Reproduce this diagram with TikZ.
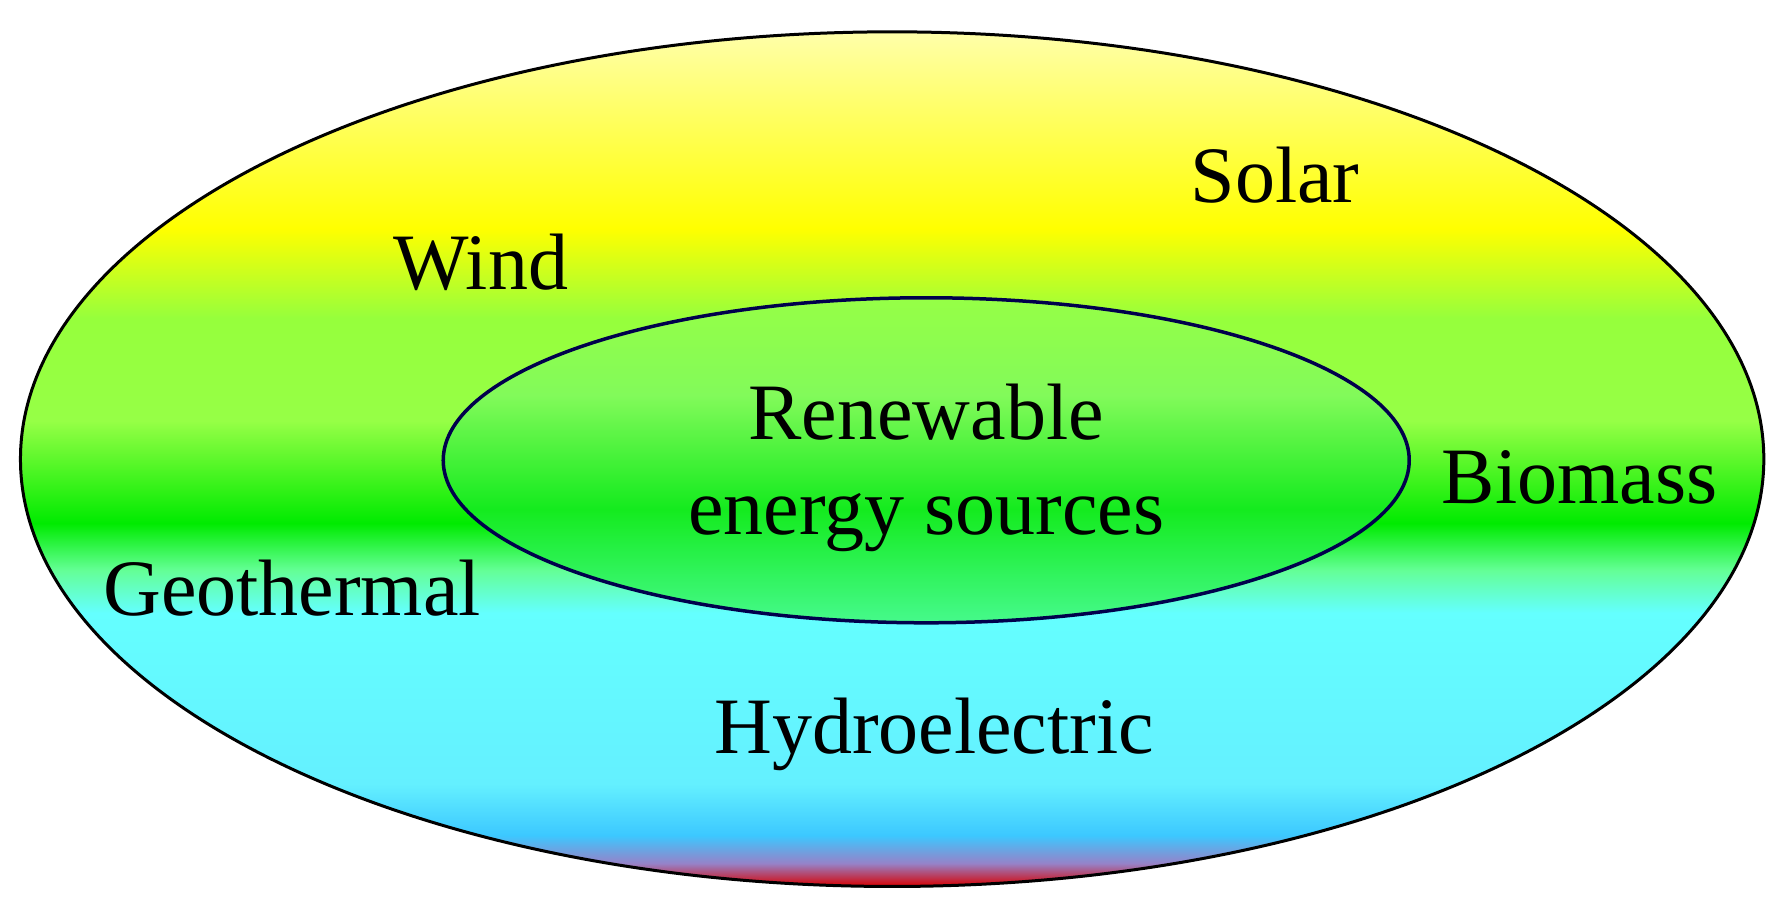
\documentclass[tikz,border=0pt]{standalone}
\usepackage{fontspec}
\setmainfont{Liberation Serif}
\pgfdeclareverticalshading{outershade}{100bp}{
 color(0bp)=(red!85!black);
 color(25bp)=(red!85!black);
 color(26.35bp)=(rgb,255:red,150;green,130;blue,200);
 color(28bp)=(rgb,255:red,60;green,200;blue,255);
 color(31bp)=(rgb,255:red,100;green,240;blue,255);
 color(41bp)=(rgb,255:red,100;green,255;blue,255);
 color(43.5bp)=(rgb,255:red,100;green,255;blue,150);
 color(46.25bp)=(rgb,255:red,0;green,235;blue,0);
 color(52.25bp)=(rgb,255:red,150;green,255;blue,70);
 color(58.25bp)=(rgb,255:red,150;green,255;blue,60);
 color(63.5bp)=(rgb,255:red,255;green,255;blue,0);
 color(75bp)=(rgb,255:red,255;green,255;blue,170);
 color(100bp)=(rgb,255:red,255;green,255;blue,170)}
\pgfdeclareverticalshading{innershade}{100bp}{
 color(0bp)=(rgb,255:red,70;green,250;blue,140);
 color(25bp)=(rgb,255:red,70;green,250;blue,140);
 color(42.5bp)=(rgb,255:red,20;green,235;blue,30);
 color(60bp)=(rgb,255:red,130;green,250;blue,90);
 color(75bp)=(rgb,255:red,150;green,255;blue,70);
 color(100bp)=(rgb,255:red,150;green,255;blue,70)}
\tikzset{lbl/.style={font=\fontsize{80}{84}\selectfont, anchor=base, inner sep=0pt}}
\begin{document}
\begin{tikzpicture}[x=1.1365pt,y=-1.1365pt]
\useasboundingbox (0,0) rectangle (1568,800);
\path[shading=outershade, draw=black, line width=3pt] (785,404) ellipse [x radius=767, y radius=376];
\node (outer) at (785,404) {};
\path[shading=innershade, draw=blue!30!black, line width=3.5pt] (815,405) ellipse [x radius=425, y radius=143];
\node (inner) at (815,405) {};
\node[lbl] (solar) at (1122,178) {Solar};
\node[lbl] (wind) at (423,255) {Wind};
\node[lbl] (ren) at (815,387) {Renewable};
\node[lbl] (ens) at (815,470) {energy sources};
\node[lbl] (bio) at (1390,443) {Biomass};
\node[lbl] (geo) at (257,542) {Geothermal};
\node[lbl] (hyd) at (822,663) {Hydroelectric};
\end{tikzpicture}
\end{document}
